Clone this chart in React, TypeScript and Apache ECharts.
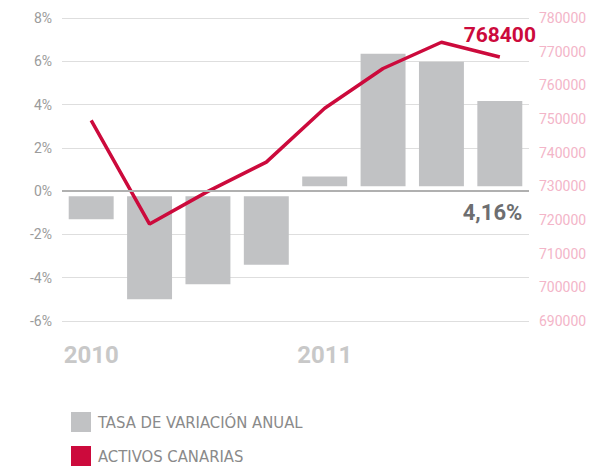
import React, { useEffect, useRef } from "react";
import * as echarts from "echarts";

const quarters = ["2010", "", "", "", "2011", "", "", ""];
const tasaVariacion = [-1.3, -5.0, -4.3, -3.4, 0.68, 6.35, 5.98, 4.16];
const activosCanarias = [749600, 718800, 728500, 737200, 753200, 765000, 772800, 768400];
const leftTicks = { min: -6, max: 8, interval: 2 };
const rightTicks = { min: 690000, max: 780000, interval: 10000 };
const seriesNames = ["TASA DE VARIACIÓN ANUAL", "ACTIVOS CANARIAS"];

const RED = "#cc0a3c";
const BAR = "#c1c2c4";
const NUM_FONT = "Roboto, 'DejaVu Sans', sans-serif";
const NARROW_FONT = "'Liberation Sans Narrow', 'DejaVu Sans Condensed', Roboto, sans-serif";

export default function App() {
  const ref = useRef<HTMLDivElement>(null);
  useEffect(() => {
    if (!ref.current) return;
    const chart = echarts.init(ref.current, null, { renderer: "svg" });
    const lastIdx = tasaVariacion.length - 1;
    chart.setOption({
      animation: false,
      grid: { left: 62, right: 72, top: 18, bottom: 146 },
      legend: {
        orient: "vertical",
        left: 71,
        top: 412,
        padding: 0,
        itemWidth: 20,
        itemHeight: 20,
        itemGap: 14,
        textStyle: { fontSize: 16.5, color: "#8a8a8a", fontFamily: NARROW_FONT, padding: [0, 0, 0, 2] },
        data: [
          { name: seriesNames[0], icon: "rect", itemStyle: { color: BAR } },
          { name: seriesNames[1], icon: "rect", itemStyle: { color: RED } },
        ],
      },
      xAxis: {
        type: "category",
        data: quarters,
        axisLine: { show: false },
        axisTick: { show: false },
        axisLabel: {
          interval: 0,
          margin: 22,
          fontSize: 24,
          fontWeight: "bold",
          color: "#c8c8c8",
          fontFamily: NUM_FONT,
        },
      },
      yAxis: [
        {
          type: "value",
          min: leftTicks.min,
          max: leftTicks.max,
          interval: leftTicks.interval,
          axisLine: { show: false },
          axisTick: { show: false },
          axisLabel: { formatter: "{value}%", color: "#9b9b9b", fontSize: 14, margin: 10, fontFamily: NUM_FONT },
          splitLine: { lineStyle: { color: "#dedede", width: 1 } },
        },
        {
          type: "value",
          min: rightTicks.min,
          max: rightTicks.max,
          interval: rightTicks.interval,
          position: "right",
          axisLine: { show: false },
          axisTick: { show: false },
          axisLabel: {
            formatter: (v: number) => String(v),
            color: "#f3b5c8",
            fontSize: 14,
            margin: 10,
            fontFamily: NUM_FONT,
          },
          splitLine: { show: false },
        },
      ],
      series: [
        {
          name: seriesNames[0],
          type: "custom",
          yAxisIndex: 0,
          itemStyle: { color: BAR },
          data: tasaVariacion.map((v, i) => [i, v]),
          z: 2,
          renderItem: (params: any, api: any) => {
            const idx = api.value(0);
            const v = api.value(1);
            const zero = api.coord([idx, 0]);
            const top = api.coord([idx, v]);
            const w = api.size([1, 0])[0] * 0.77;
            const gap = 5;
            let y0: number, h: number;
            if (v < 0) {
              y0 = zero[1] + gap;
              h = top[1] - y0;
            } else {
              y0 = top[1];
              h = zero[1] - gap - top[1];
            }
            const children: any[] = [
              {
                type: "rect",
                shape: { x: zero[0] - w / 2, y: y0, width: w, height: Math.max(h, 0) },
                style: { fill: BAR },
              },
            ];
            if (params.dataIndex === lastIdx) {
              children.push({
                type: "text",
                x: zero[0] + w / 2,
                y: zero[1] + 21,
                style: {
                  text: v.toFixed(2).replace(".", ",") + "%",
                  fill: "#6d6e70",
                  fontSize: 22,
                  fontWeight: "bold",
                  fontFamily: NUM_FONT,
                  align: "right",
                  verticalAlign: "middle",
                },
              });
            }
            return { type: "group", children };
          },
          markLine: {
            silent: true,
            symbol: "none",
            label: { show: false },
            lineStyle: { color: "#b0b0b0", width: 2, type: "solid" },
            data: [{ yAxis: 0 }],
          },
        },
        {
          name: seriesNames[1],
          type: "line",
          yAxisIndex: 1,
          z: 3,
          symbol: "circle",
          symbolSize: 0.1,
          showSymbol: true,
          lineStyle: { color: RED, width: 3.5 },
          itemStyle: { color: RED },
          data: activosCanarias.map((v, i) =>
            i === lastIdx
              ? {
                  value: v,
                  label: {
                    show: true,
                    position: "top",
                    distance: 12,
                    formatter: "{c}",
                    color: RED,
                    fontSize: 21,
                    fontWeight: "bold",
                    fontFamily: NUM_FONT,
                  },
                }
              : v
          ),
        },
      ],
    });
    return () => chart.dispose();
  }, []);
  return (
    <div
      ref={ref}
      style={{ position: "fixed", left: 0, top: 0, width: 601, height: 467, background: "#fff" }}
    />
  );
}
